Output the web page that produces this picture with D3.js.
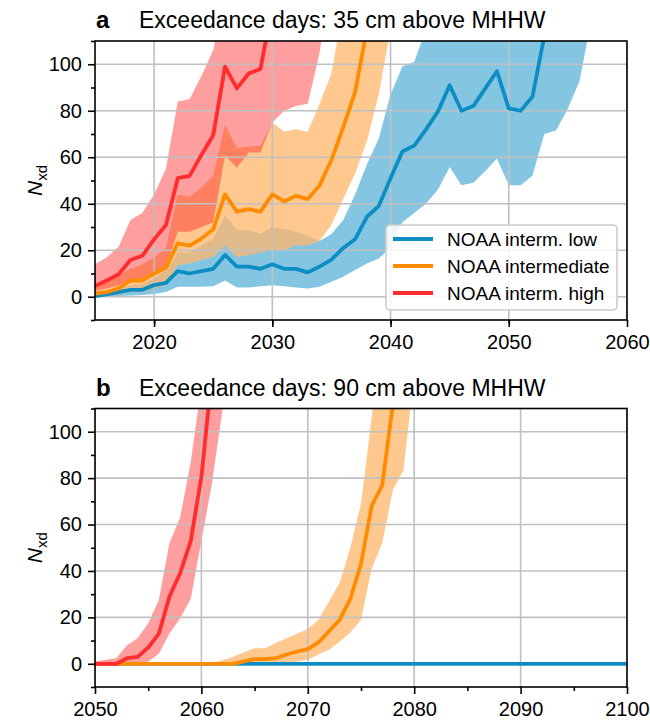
<!DOCTYPE html>
<html>
<head>
<meta charset="utf-8">
<script src="https://cdn.jsdelivr.net/npm/d3@7"></script>
<style>
  body { margin: 0; background: #fff; }
  svg { font-family: "Liberation Sans", Arial, sans-serif; }
</style>
</head>
<body>
<svg id="chart" width="650" height="721"></svg>
<script>
// ---- panel a: 35 cm above MHHW ----
const lowStartA = 2015;
const lowA   = [0.3,1,2,3,3,5,6,11,10,11,12,18,13,13,12,14,12,12,10.5,13,16,21,24.7,34.4,39,51,62.5,65,72,79.6,91,80,82,89.5,97,81,80,86,112,130];
const lowLoA = [0,0,0.3,0.5,0.8,1.2,2,4.3,4.3,4.3,4.5,7,4,4,4.5,5,4.5,4,3.6,4.3,6.5,8.6,11.5,14.3,16.5,21,32,36,40,46,55.8,48,49,54,59.5,48,48,52,70,71.5,81,93,120];
const lowHiA = [1,2,3.5,5,5.5,8,11.5,19,19,22,25,35,28.7,28.7,27,30,29,28,26,24,27,33,44,57,68,87,99,101,115,130,130,130,130,130,130,130,130,130,130,130,130,130,130];

const midStartA = 2015;
const midA   = [1.4,2,3.6,7,7,10,12.6,23,22,25,29,44,36.6,37.7,36.6,44,41,43.4,42,48,58.8,73,88,115];
const midLoA = [0.3,0.5,1,2,2,3.5,5,13.6,14.3,15.8,17.2,22,17,18,19,20,20,22,22,24,31,42,53,67,87,115];
const midHiA = [6,7,9,12,14,17,21,44,43,47,52,74,64,64.5,65,75,71,72,71,83,96,125,130,130,130,130];

const hiStartA = 2015;
const hiA   = [4.6,7,9.7,15.8,17.6,24.7,30.8,51,52,61,69.5,99,89.6,96,98,125];
const hiLoA = [2.5,3.5,5,7,8,11,13,28,28,30,32,61,55.5,62,62,75,80,82,83,105,140];
const hiHiA = [14,17,21.5,33,36,44,55,84,85,95,106,130,130,130,130,130,130,130,130,130,130];

// ---- panel b: 90 cm above MHHW ----
const lowStartB = 2050;
const lowB = [0,0,0,0,0,0,0,0,0,0,0,0,0,0,0,0,0,0,0,0,0,0,0,0,0,0,0,0,0,0,0,0,0,0,0,0,0,0,0,0,0,0,0,0,0,0,0,0,0,0,0];

const midStartB = 2050;
const midB   = [0,0,0,0,0,0,0,0,0,0,0,0,0,0,1,2,2,2.4,4,5.3,6.3,9.2,14,19,28,43,68,77,112,150];
const midLoB = [0,0,0,0,0,0,0,0,0,0,0,0,0,0,0,0,0,0,0.5,1,1.7,4,6,9.6,13.5,19,41,52,75,83.5,125];
const midHiB = [0,0,0,0,0,0,0,0,0,0,0,0.5,1.5,3,5,6.7,6.7,9,11,13,15,19,27,35,50,69,106,140,140,140,140];

const hiStartB = 2050;
const hiB   = [0,0,0,2.4,3,7,13,29,39,53,80.6,125];
const hiLoB = [0,0,0,0,0.3,1,4.3,13,19.6,28,53,78,110,140];
const hiHiB = [1,1.7,2.4,8,11,17.5,27.5,52,63,87,120,140,140,140];

const seriesNames = ["NOAA interm. low", "NOAA intermediate", "NOAA interm. high"];
const lineColors = ["#0c8ec4", "#ff8c00", "#ff2d2d"];
const bandColors = ["#0a8ec6", "#ffb66a", "#ff2828"];
const bandOpacity = [0.5, 0.75, 0.45];

const yTicks = [0, 20, 40, 60, 80, 100];
const yMinor = [-10, 10, 30, 50, 70, 90, 110];

const svg = d3.select("#chart");
const left = 95, right = 627;

function pts(start, vals) {
  return vals.map((v, i) => [start + i, v]);
}
function band(start, lo, hi) {
  return lo.map((v, i) => ({ yr: start + i, lo: v, hi: hi[i] }));
}

function drawPanel(cfg) {
  const x = d3.scaleLinear().domain(cfg.xDomain).range([left, right]);
  const y = d3.scaleLinear().domain([-10, 110]).range([cfg.bottom, cfg.top]);
  const g = svg.append("g");

  g.append("clipPath").attr("id", cfg.id + "-clip")
    .append("rect")
    .attr("x", left).attr("y", cfg.top)
    .attr("width", right - left).attr("height", cfg.bottom - cfg.top);

  const plot = g.append("g").attr("clip-path", "url(#" + cfg.id + "-clip)");

  const area = d3.area().x(d => x(d.yr)).y0(d => y(d.lo)).y1(d => y(d.hi));
  cfg.bands.forEach((b, i) => {
    if (!b) return;
    plot.append("path")
      .attr("d", area(b))
      .attr("fill", bandColors[i])
      .attr("fill-opacity", bandOpacity[i]);
  });

  // grid
  const xTicks = x.ticks(cfg.nx);
  plot.selectAll("line.gx").data(xTicks).enter().append("line")
    .attr("x1", d => x(d)).attr("x2", d => x(d))
    .attr("y1", cfg.top).attr("y2", cfg.bottom)
    .attr("stroke", "#c0c0c0").attr("stroke-width", 1.6);
  plot.selectAll("line.gy").data(yTicks).enter().append("line")
    .attr("x1", left).attr("x2", right)
    .attr("y1", d => y(d)).attr("y2", d => y(d))
    .attr("stroke", "#c0c0c0").attr("stroke-width", 1.6);

  const line = d3.line().x(d => x(d[0])).y(d => y(d[1]));
  cfg.lines.forEach((l, i) => {
    plot.append("path")
      .attr("d", line(l))
      .attr("fill", "none")
      .attr("stroke", lineColors[i])
      .attr("stroke-width", 3.8)
      .attr("stroke-linejoin", "round");
  });

  // axes
  const xAxis = d3.axisBottom(x).tickValues(xTicks).tickFormat(d3.format("d"))
    .tickSize(7).tickPadding(6);
  const xa = g.append("g").attr("transform", "translate(0," + cfg.bottom + ")").call(xAxis);
  const minorX = d3.range(cfg.xDomain[0] + 5, cfg.xDomain[1], 10);
  g.append("g").attr("transform", "translate(0," + cfg.bottom + ")")
    .call(d3.axisBottom(x).tickValues(minorX).tickFormat("").tickSize(4));

  const yAxis = d3.axisLeft(y).tickValues(yTicks).tickSize(7).tickPadding(6);
  const ya = g.append("g").attr("transform", "translate(" + left + ",0)").call(yAxis);
  g.append("g").attr("transform", "translate(" + left + ",0)")
    .call(d3.axisLeft(y).tickValues(yMinor).tickFormat("").tickSize(4));

  g.selectAll(".domain").remove();
  g.selectAll(".tick line").attr("stroke", "#000").attr("stroke-width", 1.6);
  [xa, ya].forEach(a => a.selectAll("text")
    .attr("font-size", 20).attr("fill", "#000")
    .attr("font-family", "'Liberation Sans', Arial, sans-serif"));
  xa.selectAll("text").attr("dy", "0.8em");

  // frame
  g.append("rect")
    .attr("x", left).attr("y", cfg.top)
    .attr("width", right - left).attr("height", cfg.bottom - cfg.top)
    .attr("fill", "none").attr("stroke", "#000").attr("stroke-width", 1.6);

  // titles
  g.append("text").attr("x", 96).attr("y", cfg.top - 13)
    .attr("font-size", 24).attr("font-weight", "bold").text(cfg.letter);
  g.append("text").attr("x", 139).attr("y", cfg.top - 13)
    .attr("font-size", 23).text(cfg.title);

  // y label
  const yl = g.append("text")
    .attr("transform", "translate(42," + ((cfg.top + cfg.bottom) / 2) + ") rotate(-90)")
    .attr("text-anchor", "middle")
    .attr("font-size", 21);
  yl.append("tspan").attr("font-style", "italic").text("N");
  yl.append("tspan").attr("font-size", 15).attr("dy", 5).text("xd");

  return g;
}

drawPanel({
  id: "pa", letter: "a", title: "Exceedance days: 35 cm above MHHW",
  top: 41, bottom: 320, xDomain: [2015, 2060], nx: 5,
  bands: [band(lowStartA, lowLoA, lowHiA), band(midStartA, midLoA, midHiA), band(hiStartA, hiLoA, hiHiA)],
  lines: [pts(lowStartA, lowA), pts(midStartA, midA), pts(hiStartA, hiA)]
});

drawPanel({
  id: "pb", letter: "b", title: "Exceedance days: 90 cm above MHHW",
  top: 408.5, bottom: 687, xDomain: [2050, 2100], nx: 5,
  bands: [null, band(midStartB, midLoB, midHiB), band(hiStartB, hiLoB, hiHiB)],
  lines: [pts(lowStartB, lowB), pts(midStartB, midB), pts(hiStartB, hiB)]
});

// legend (panel a)
const lg = svg.append("g").attr("transform", "translate(386,225)");
lg.append("rect").attr("width", 231).attr("height", 85).attr("rx", 4)
  .attr("fill", "#fff").attr("fill-opacity", 0.85)
  .attr("stroke", "#cccccc").attr("stroke-width", 1.6);
seriesNames.forEach((name, i) => {
  const yy = 14 + i * 27;
  lg.append("line").attr("x1", 7).attr("x2", 47).attr("y1", yy).attr("y2", yy)
    .attr("stroke", lineColors[i]).attr("stroke-width", 3.8);
  lg.append("text").attr("x", 61).attr("y", yy).attr("dy", "0.35em")
    .attr("font-size", 19).text(name);
});
</script>
</body>
</html>
